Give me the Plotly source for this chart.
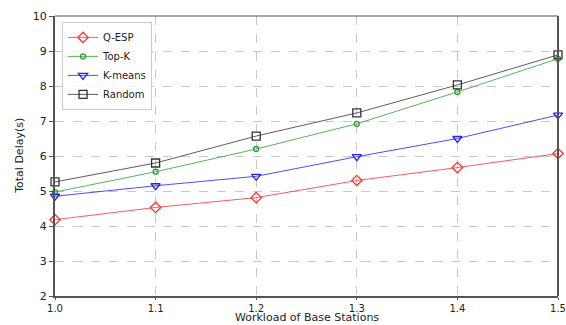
import plotly.graph_objects as go

workload = [1.0, 1.1, 1.2, 1.3, 1.4, 1.5]
q_esp = [4.18, 4.53, 4.81, 5.30, 5.67, 6.07]
top_k = [4.97, 5.55, 6.20, 6.92, 7.83, 8.78]
k_means = [4.85, 5.15, 5.42, 5.98, 6.50, 7.17]
random_ = [5.26, 5.80, 6.57, 7.23, 8.03, 8.89]
x_title = "Workload of Base Stations"
y_title = "Total Delay(s)"

series = [
    ("Q-ESP", q_esp, "#ff3030", "diamond-open", 8),
    ("Top-K", top_k, "#2ca02c", "circle-open", 5),
    ("K-means", k_means, "#2020ff", "triangle-down-open", 8),
    ("Random", random_, "#333333", "square-open", 8),
]

fig = go.Figure()
for name, ys, col, sym, sz in series:
    fig.add_trace(go.Scatter(
        x=workload, y=ys, name=name, mode="lines+markers",
        line=dict(color=col, width=0.8),
        marker=dict(symbol=sym, size=sz, color=col, line=dict(width=1.3, color=col)),
        cliponaxis=False,
    ))

font = "DejaVu Sans, sans-serif"
fig.update_layout(
    width=566, height=325,
    margin=dict(l=55, r=8, t=16, b=29, autoexpand=False),
    paper_bgcolor="white", plot_bgcolor="white",
    font=dict(family=font, size=11, color="#222"),
    showlegend=True,
    legend=dict(x=0.014, y=0.979, xanchor="left", yanchor="top",
                bgcolor="rgba(255,255,255,0.8)", bordercolor="#ccc", borderwidth=1,
                font=dict(size=10), itemwidth=30, tracegroupgap=0),
    xaxis=dict(range=[1.0, 1.5], tickvals=workload, ticktext=["1.0", "1.1", "1.2", "1.3", "1.4", "1.5"],
               ticklabeloverflow="allow", automargin=False, tickfont=dict(size=10),
               showgrid=True, gridcolor="#c8c8c8", griddash="dash", gridwidth=1,
               showline=True, linecolor="#555", linewidth=2, mirror=False,
               ticks="outside", ticklen=2, tickcolor="#555",
               zeroline=False),
    yaxis=dict(range=[2, 10], dtick=1, ticklabeloverflow="allow", automargin=False,
               showgrid=True, gridcolor="#c8c8c8", griddash="dash", gridwidth=1,
               showline=True, linecolor="#555", linewidth=2,
               ticks="outside", ticklen=4, tickcolor="#555",
               zeroline=False),
    annotations=[
        dict(text=x_title, xref="paper", yref="paper", x=0.5, y=-0.1036,
             xanchor="center", yanchor="bottom", showarrow=False, font=dict(size=11),
             borderpad=0),
        dict(text=y_title, xref="paper", yref="paper", x=-0.072, y=0.5, textangle=-90,
             xanchor="center", yanchor="middle", showarrow=False, font=dict(size=11)),
    ],
)
fig.add_shape(type="line", xref="paper", yref="paper", x0=0, x1=1, y0=1, y1=1,
              line=dict(color="#555", width=1))
fig.add_shape(type="line", xref="paper", yref="paper", x0=1, x1=1, y0=0, y1=1,
              line=dict(color="#555", width=2))
fig.write_html("out.html", config={"displayModeBar": False},
               post_script="document.body.style.margin='0';")
